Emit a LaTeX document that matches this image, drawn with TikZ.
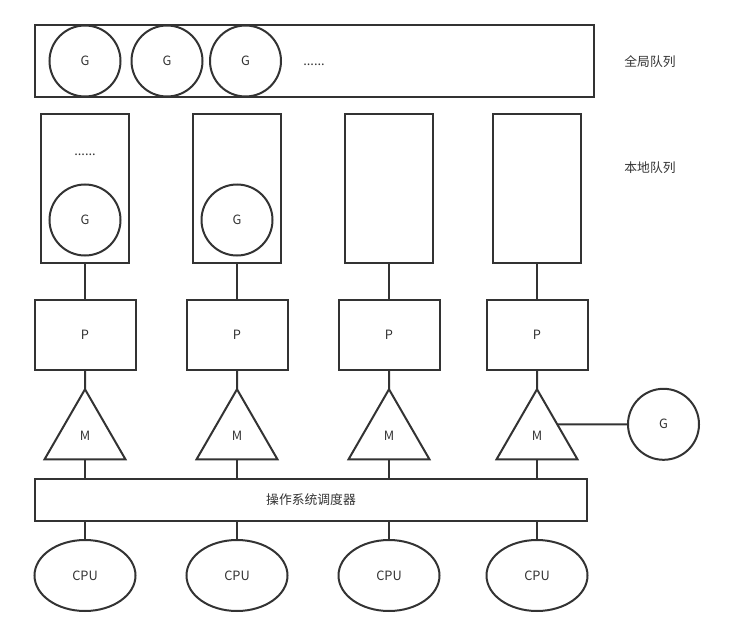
\documentclass[tikz,border=0pt]{standalone}
\usepackage{fontspec}
\setmainfont{Noto Sans CJK SC}
\usetikzlibrary{shapes.geometric}
\definecolor{ink}{HTML}{333333}
\tikzset{
    base/.style={draw=ink, line width=1.5pt, inner sep=0pt, outer sep=0pt,
        text=ink, font=\fontsize{9.6}{11}\selectfont},
    gcircle/.style={base, circle, minimum size=53.25pt},
    globalq/.style={base, minimum width=419.25pt, minimum height=54pt},
    localq/.style={base, minimum width=66pt, minimum height=111.75pt},
    pbox/.style={base, minimum width=75.75pt, minimum height=52.5pt},
    mtri/.style={base, regular polygon, regular polygon sides=3, minimum size=70.1pt},
    sched/.style={base, minimum width=414pt, minimum height=31.5pt},
    cpu/.style={base, ellipse, minimum width=75.75pt, minimum height=53.25pt},
    plain/.style={inner sep=0pt, text=ink, font=\fontsize{9.6}{11}\selectfont},
    link/.style={draw=ink, line width=1.5pt}
}
\begin{document}
\begin{tikzpicture}[x=0.75pt, y=-0.75pt]
            % the frame
            \useasboundingbox (0,0) rectangle (735,635);
            % the global queue
            \node[globalq] (gq) at (314.5,61) {};
            \node[gcircle] (gg1) at (85,61) {G};
            \node[gcircle] (gg2) at (167,61) {G};
            \node[gcircle] (gg3) at (245.5,61) {G};
            \node[plain] (gdots) at (314,65) {......};
            \node[plain] (glabel) at (650,62) {全局队列};

            % the columns
            \foreach \x [count=\i] in {85,237,389,537} {
                \node[localq] (lq\i) at (\x,188.5) {};
                \node[pbox] (p\i) at (\x,335) {P};
                \node[mtri] (m\i) at (\x,436) {M};
                \node[cpu] (cpu\i) at (\x,575.5) {CPU};
            };
            \node[plain] (llabel) at (650,168) {本地队列};
            \node[plain] (ldots) at (85,155) {......};
            \node[gcircle] (lg1) at (85,220) {G};
            \node[gcircle] (lg2) at (237,220) {G};

            % the scheduler
            \node[sched] (os) at (311,500) {操作系统调度器};
            \node[gcircle] (gx) at (663.5,424.3) {G};

            % links
            \foreach \i in {1,...,4} {
                \draw[link] (lq\i) -- (p\i);
                \draw[link] (p\i) -- (m\i);
                \draw[link] (m\i.side 2) -- (m\i.side 2 |- os.north);
                \draw[link] (cpu\i.north) -- (cpu\i.north |- os.south);
            };
            \draw[link] (m4.side 3) -- (gx);
\end{tikzpicture}
\end{document}
